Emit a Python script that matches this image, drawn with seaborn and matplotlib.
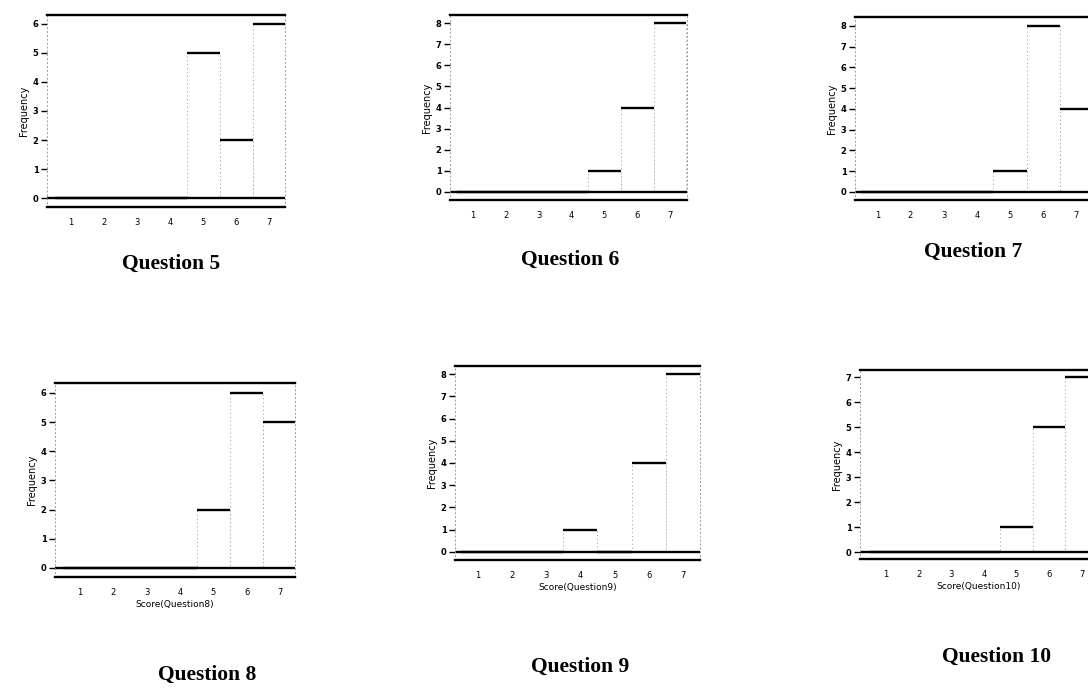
import numpy as np
import pandas as pd
import seaborn as sns
import matplotlib.pyplot as plt


### Scores and counts per question (13 respondents each)
scores = [1, 2, 3, 4, 5, 6, 7]
q5 = [0, 0, 0, 0, 5, 2, 6]
q6 = [0, 0, 0, 0, 1, 4, 8]
q7 = [0, 0, 0, 0, 1, 8, 4]
q8 = [0, 0, 0, 0, 2, 6, 5]
q9 = [0, 0, 0, 1, 0, 4, 8]
q10 = [0, 0, 0, 0, 1, 5, 7]

questions = [5, 6, 7, 8, 9, 10]
counts = [q5, q6, q7, q8, q9, q10]
ymax_ticks = [6, 8, 8, 6, 8, 7]


### Layout in pixels: (left, top, right, bottom), xlim, ylim, title centre
W, H = 1088, 688
boxes = [(47, 15, 285, 207), (450, 15, 687, 200), (855, 17, 1093, 200),
         (55, 383, 295, 577), (455, 366, 700, 560), (860, 370, 1098, 559)]
xlims = [(0.27, 7.48), (0.30, 7.52), (0.33, 7.5),
         (0.25, 7.45), (0.33, 7.5), (0.20, 7.5)]
ylims = [(-0.31, 6.31), (-0.38, 8.38), (-0.39, 8.43),
         (-0.31, 6.34), (-0.36, 8.36), (-0.28, 7.30)]
title_pos = [(171, 264), (570, 260), (973, 252),
             (207, 675), (580, 667), (997, 657)]


sns.set_style("white")
plt.rcParams['font.family'] = ['DejaVu Sans']
plt.rcParams['text.color'] = 'black'
plt.rcParams['axes.labelcolor'] = 'black'
plt.rcParams['xtick.color'] = 'black'
plt.rcParams['ytick.color'] = 'black'

fig = plt.figure(figsize=(W / 100, H / 100), dpi=100)

for i, q in enumerate(questions):
    l, t, r, b = boxes[i]
    ax = fig.add_axes([l / W, 1 - b / H, (r - l) / W, (b - t) / H])
    df = pd.DataFrame({'score': scores, 'count': counts[i]})

    sns.barplot(data=df, x='score', y='count', ax=ax, native_scale=True,
                width=1.0, color='white', edgecolor='#9a9a9a',
                linewidth=0.7, linestyle=(0, (1, 3)), saturation=1)
    # dark bar tops, as in the scan
    ax.hlines(df['count'], df['score'] - 0.5, df['score'] + 0.5,
              color='black', lw=1.7)
    ax.axhline(0, color='black', lw=1.7)

    ax.set_xlim(*xlims[i])
    ax.set_ylim(*ylims[i])
    ax.set_xticks(scores)
    ax.set_xticklabels([str(s) for s in scores], fontsize=6)
    ax.set_yticks(np.arange(0, ymax_ticks[i] + 1))
    ax.set_yticklabels([str(v) for v in range(ymax_ticks[i] + 1)],
                       fontsize=6, fontweight='bold')
    ax.tick_params(axis='y', length=4, width=1, pad=2, left=True)
    ax.tick_params(axis='x', length=0, pad=8)

    ax.set_ylabel('Frequency', fontsize=7, labelpad=3)
    if i >= 3:
        ax.set_xlabel('Score(Question%d)' % q, fontsize=6.5, labelpad=2)
    else:
        ax.set_xlabel('')

    for side in ['top', 'bottom']:
        ax.spines[side].set_color('black')
        ax.spines[side].set_linewidth(1.7)
    for side in ['left', 'right']:
        ax.spines[side].set_color('#999999')
        ax.spines[side].set_linewidth(0.7)
        ax.spines[side].set_linestyle((0, (1, 3)))

    tx, ty = title_pos[i]
    fig.text(tx / W, 1 - ty / H, 'Question %d' % q, ha='center', va='center',
             fontsize=15.5, fontweight='bold', family='Liberation Serif',
             color='black')

plt.savefig('out.png', dpi=100)
